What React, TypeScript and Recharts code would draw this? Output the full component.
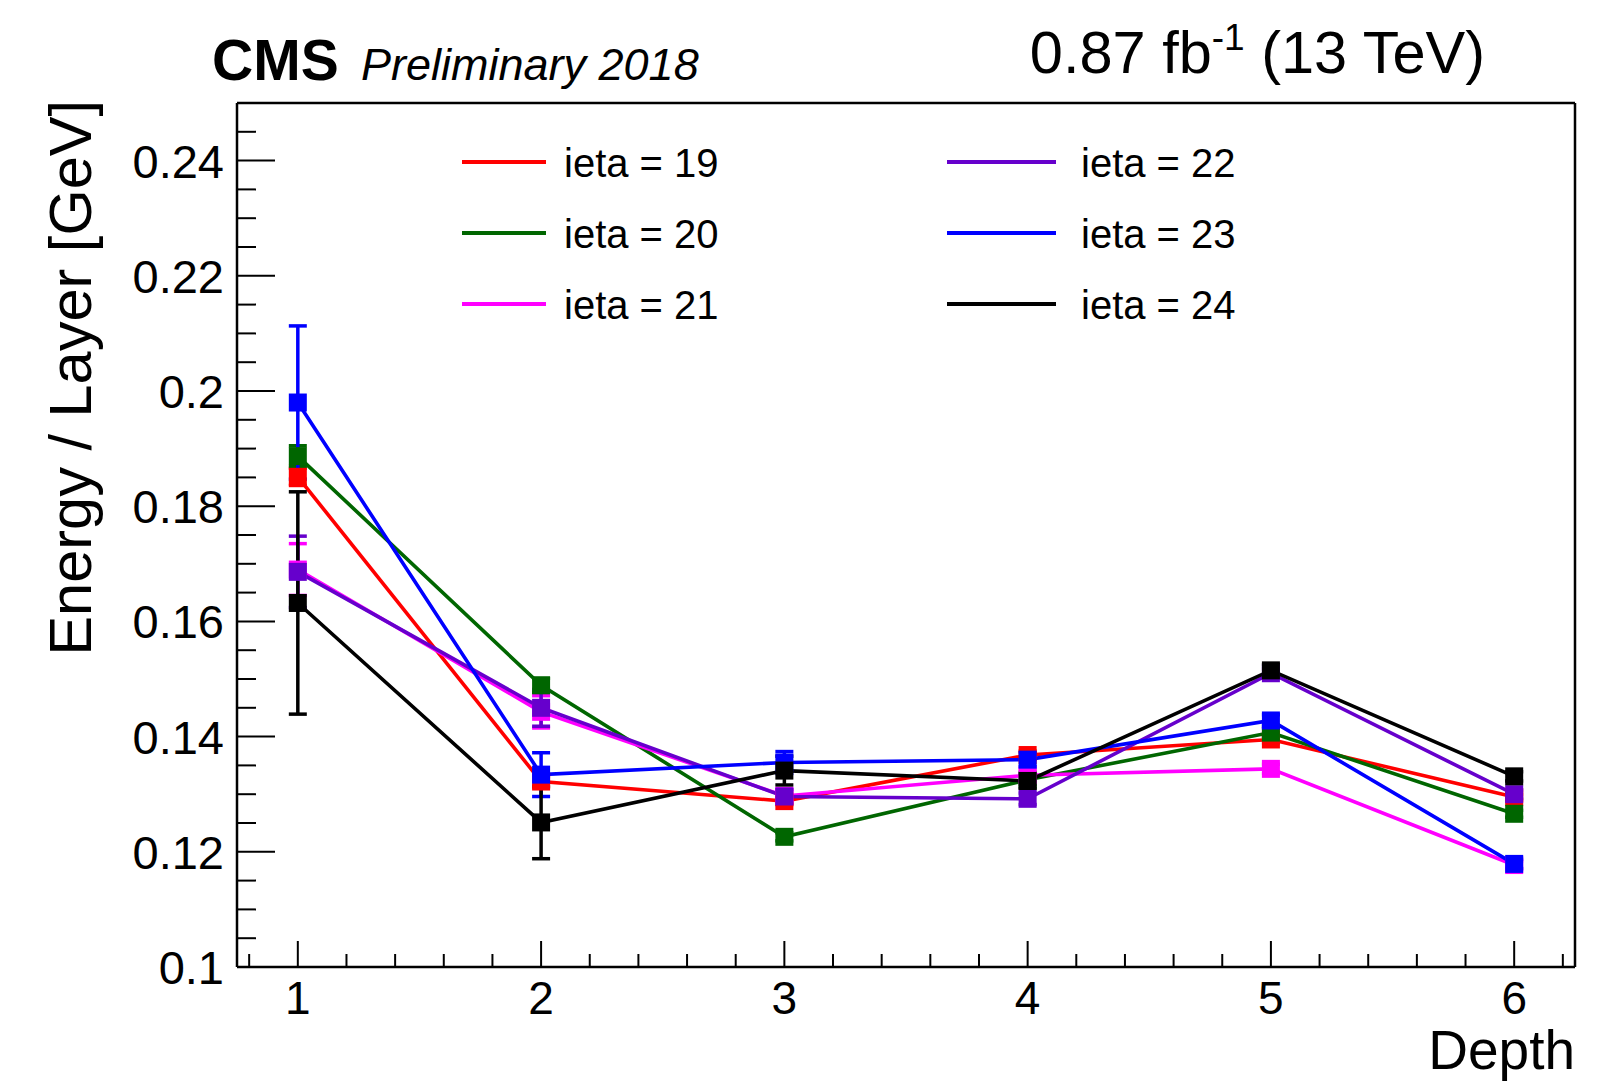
import React from "react";
import { LineChart, Line, XAxis, YAxis, ErrorBar, ReferenceLine, Legend } from "recharts";

const W = 1619;
const H = 1083;
const FONT = "'Liberation Sans', Arial, Helvetica, sans-serif";

// Depth layers (x axis)
const depths = [1, 2, 3, 4, 5, 6];

// Mean energy per layer [GeV]
const ieta19 = [0.1851, 0.1322, 0.1288, 0.1368, 0.1395, 0.1295];
const ieta20 = [0.1887, 0.1489, 0.1226, 0.1325, 0.1407, 0.1266];
const ieta21 = [0.169, 0.1443, 0.1297, 0.1333, 0.1344, 0.1177];
const ieta22 = [0.1686, 0.145, 0.1296, 0.1292, 0.151, 0.13];
const ieta23 = [0.198, 0.1334, 0.1355, 0.136, 0.1428, 0.1179];
const ieta24 = [0.1632, 0.1251, 0.1341, 0.1323, 0.1515, 0.1331];

// Error bars (symmetric)
const err19 = [0.0015, 0.001, 0.0006, 0.0007, 0.0006, 0.0005];
const err20 = [0.0018, 0.0012, 0.0007, 0.0008, 0.0007, 0.0006];
const err21 = [0.0045, 0.0028, 0.001, 0.001, 0.0008, 0.0007];
const err22 = [0.0062, 0.0032, 0.0012, 0.001, 0.0008, 0.0007];
const err23 = [0.0133, 0.0038, 0.0019, 0.0012, 0.001, 0.0008];
const err24 = [0.0193, 0.0063, 0.0025, 0.0013, 0.001, 0.0008];

const yMajorTicks = [0.1, 0.12, 0.14, 0.16, 0.18, 0.2, 0.22, 0.24];
const yTickLabels = ["0.1", "0.12", "0.14", "0.16", "0.18", "0.2", "0.22", "0.24"];
const xTickLabels = ["1", "2", "3", "4", "5", "6"];

// minor tick positions (ROOT style divisions)
const yTicks = Array.from({ length: 31 }, (_, i) => +(0.1 + i * 0.005).toFixed(3));
const xTicks = Array.from({ length: 28 }, (_, i) => +(0.8 + i * 0.2).toFixed(1));

const seriesList = [
  { key: "ieta19", name: "ieta = 19", color: "#ff0000", values: ieta19, errors: err19 },
  { key: "ieta20", name: "ieta = 20", color: "#006600", values: ieta20, errors: err20 },
  { key: "ieta21", name: "ieta = 21", color: "#ff00ff", values: ieta21, errors: err21 },
  { key: "ieta22", name: "ieta = 22", color: "#6600cc", values: ieta22, errors: err22 },
  { key: "ieta23", name: "ieta = 23", color: "#0000ff", values: ieta23, errors: err23 },
  { key: "ieta24", name: "ieta = 24", color: "#000000", values: ieta24, errors: err24 },
];

const data = depths.map((d, i) => {
  const row: Record<string, number> = { depth: d };
  seriesList.forEach((s) => {
    row[s.key] = s.values[i];
    row[s.key + "Err"] = s.errors[i];
  });
  return row;
});

const YTick = (props: any) => {
  const { x, y, payload } = props;
  const idx = yMajorTicks.findIndex((m) => Math.abs(m - payload.value) < 1e-6);
  const major = idx >= 0;
  return (
    <g>
      <line x1={x} x2={x + (major ? 38 : 19)} y1={y} y2={y} stroke="#000" strokeWidth={2} />
      {major && (
        <text x={x - 13} y={y} dy={17} textAnchor="end" fontSize={47} fontFamily={FONT} fill="#000">
          {yTickLabels[idx]}
        </text>
      )}
    </g>
  );
};

const XTick = (props: any) => {
  const { x, y, payload } = props;
  const idx = depths.findIndex((d) => Math.abs(d - payload.value) < 1e-6);
  const major = idx >= 0;
  return (
    <g>
      <line x1={x} x2={x} y1={y} y2={y - (major ? 26 : 13)} stroke="#000" strokeWidth={2} />
      {major && (
        <text x={x} y={y + 47} textAnchor="middle" fontSize={46} fontFamily={FONT} fill="#000">
          {xTickLabels[idx]}
        </text>
      )}
    </g>
  );
};

const squareDot = (color: string) => (p: any) => {
  if (p.cx == null || p.cy == null) return <g key={`${color}-${p.index}`} />;
  return <rect key={`${color}-${p.index}`} x={p.cx - 9} y={p.cy - 9} width={18} height={18} fill={color} />;
};

const LegendBlock = () => (
  <svg width={W} height={340} style={{ display: "block", overflow: "visible" }}>
    {seriesList.map((s, i) => {
      const col = i < 3 ? 0 : 1;
      const row = i % 3;
      const cy = 162 + row * 71;
      const x1 = col === 0 ? 462 : 947;
      const x2 = col === 0 ? 546 : 1056;
      const tx = col === 0 ? 564 : 1081;
      return (
        <g key={s.key}>
          <line x1={x1} x2={x2} y1={cy} y2={cy} stroke={s.color} strokeWidth={4} />
          <text x={tx} y={cy + 15} fontSize={40} fontFamily={FONT} fill="#000">
            {s.name}
          </text>
        </g>
      );
    })}
  </svg>
);

export default function App() {
  return (
    <div style={{ position: "absolute", left: 0, top: 0, width: W, height: H, background: "#fff" }}>
      <LineChart width={W} height={H} data={data} margin={{ top: 103, right: 44, bottom: 56, left: 157 }}>
        <XAxis
          dataKey="depth"
          type="number"
          domain={[0.75, 6.25]}
          ticks={xTicks}
          interval={0}
          tickSize={0}
          tickMargin={0}
          tickLine={false}
          height={60}
          axisLine={{ stroke: "#000", strokeWidth: 2.5 }}
          tick={<XTick />}
        />
        <YAxis
          type="number"
          domain={[0.1, 0.25]}
          ticks={yTicks}
          interval={0}
          tickSize={0}
          tickMargin={0}
          tickLine={false}
          width={80}
          axisLine={{ stroke: "#000", strokeWidth: 2.5 }}
          tick={<YTick />}
        />
        <ReferenceLine y={0.25} stroke="#000" strokeWidth={2.5} />
        <ReferenceLine x={6.25} stroke="#000" strokeWidth={2.5} />
        <Legend
          layout="vertical"
          align="center"
          verticalAlign="middle"
          wrapperStyle={{ left: 0, top: 0, width: W, height: 0 }}
          content={() => <LegendBlock />}
        />
        {seriesList.map((s) => (
          <Line
            key={s.key}
            type="linear"
            dataKey={s.key}
            name={s.name}
            stroke={s.color}
            strokeWidth={3.6}
            dot={squareDot(s.color)}
            activeDot={false}
            isAnimationActive={false}
          >
            <ErrorBar dataKey={s.key + "Err"} width={9} strokeWidth={3.5} stroke={s.color} direction="y" isAnimationActive={false} />
          </Line>
        ))}
      </LineChart>
      <svg
        width={W}
        height={H}
        style={{ position: "absolute", left: 0, top: 0, pointerEvents: "none" }}
      >
        <text x={212} y={80} fontSize={57} fontWeight="bold" fontFamily={FONT} fill="#000">
          CMS
        </text>
        <text x={361} y={80} fontSize={45} fontStyle="italic" fontFamily={FONT} fill="#000">
          Preliminary 2018
        </text>
        <text x={1485} y={73} textAnchor="end" fontSize={59.5} fontFamily={FONT} fill="#000">
          0.87 fb
          <tspan fontSize={37} dy={-23}>-1</tspan>
          <tspan dy={23}> (13 TeV)</tspan>
        </text>
        <text x={1575} y={1069} textAnchor="end" fontSize={55} fontFamily={FONT} fill="#000">
          Depth
        </text>
        <text
          transform="rotate(-90)"
          x={-100}
          y={91}
          textAnchor="end"
          fontSize={59.5}
          fontFamily={FONT}
          fill="#000"
        >
          Energy / Layer [GeV]
        </text>
      </svg>
    </div>
  );
}
